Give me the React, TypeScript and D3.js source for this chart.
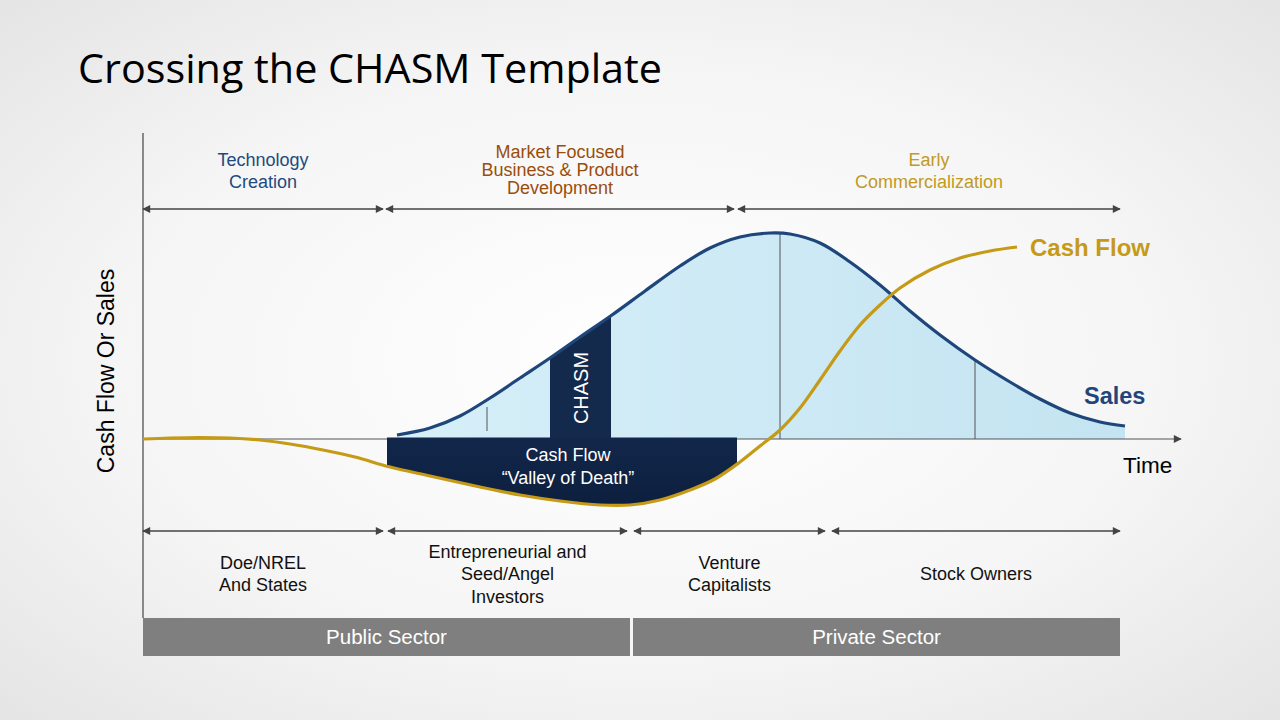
import React from "react";
import * as d3 from "d3";

// ---- Data (time units 0..100, value units: 0 = axis) ----
const salesT = [25.4, 28.7, 31.7, 34.7, 37.7, 40.7, 43.7, 46.9, 50.2, 53.7, 56.7, 59.7, 62.7, 64.7, 67.7, 70.7, 73.7, 76.7, 79.7, 83.2, 86.7, 89.7, 92.7, 95.7, 98.2];
const salesV = [2, 5.5, 11.5, 20.5, 30.5, 40.5, 51, 62, 74, 86.5, 95.5, 101, 103, 102.5, 98, 88.5, 77, 64, 52, 39.5, 28.5, 20, 13, 8.5, 6.5];

const cashT = [0, 2.7, 5.7, 8.7, 11.7, 14.7, 18, 21.2, 24.7, 28.7, 33.7, 37.7, 41.7, 45.7, 48.7, 51.7, 54.7, 57.2, 59.7, 61.7, 63.7, 65.7, 67.7, 69.7, 71.7, 73.7, 75.7, 78.7, 81.7, 84.7, 87.4];
const cashV = [0, 0.5, 0.75, 0.5, -0.5, -2.5, -5.5, -9, -14, -18.5, -24, -28, -31, -33, -33, -30.5, -25.5, -20, -11.5, -3.5, 4.5, 15.5, 29.5, 44, 57, 67, 75.5, 84.5, 90.5, 94, 96];

const chasmSpan = [40.7, 46.8];
const valleySpan = [24.4, 59.4];

const dividerT = [34.4, 63.7, 83.2];
const dividerV0 = [4, 0, 0];
const dividerV1 = [16, 102.5, 39.5];

const topPhaseStart = [0, 24.3, 59.5];
const topPhaseEnd = [24, 59.1, 97.7];
const topPhaseLabels = [["Technology", "Creation"], ["Market Focused", "Business & Product", "Development"], ["Early", "Commercialization"]];
const topPhaseColors = ["#1f4a7e", "#9a4d0b", "#c19a1f"];

const fundStart = [0, 24.5, 49.1, 68.9];
const fundEnd = [24, 48.4, 68.2, 97.7];
const fundLabels = [["Doe/NREL", "And States"], ["Entrepreneurial and", "Seed/Angel", "Investors"], ["Venture", "Capitalists"], ["Stock Owners"]];

const sectorStart = [0, 49];
const sectorEnd = [48.7, 97.7];
const sectorLabels = ["Public Sector", "Private Sector"];

const FONT = "'Liberation Sans', Arial, sans-serif";

export default function App() {
  const x = d3.scaleLinear().domain([0, 100]).range([143, 1143]);
  const y = d3.scaleLinear().domain([0, 100]).range([439, 239]);

  const sales = salesT.map((t, i) => ({ t, v: salesV[i] }));
  const cash = cashT.map((t, i) => ({ t, v: cashV[i] }));

  const curve = d3.curveCatmullRom.alpha(0.5);
  const line = d3.line<any>().x(d => x(d.t)).y(d => y(d.v)).curve(curve);
  const salesArea = d3.area<any>().x(d => x(d.t)).y0(y(0)).y1(d => y(d.v)).curve(curve);
  const valleyArea = d3.area<any>().x(d => x(d.t)).y0(y(0) - 1.5).y1(d => y(d.v)).curve(curve);

  const axisY0 = 133;
  const axisY1 = 618;
  const topArrowY = 209;
  const botArrowY = 531;
  const sectorY = 618;
  const sectorH = 38;

  return (
    <svg width={1280} height={720} style={{ position: "absolute", left: 0, top: 0 }} fontFamily={FONT}>
      <defs>
        <radialGradient id="bg" cx="50%" cy="50%" r="75%">
          <stop offset="0%" stopColor="#ffffff" />
          <stop offset="55%" stopColor="#f5f5f5" />
          <stop offset="100%" stopColor="#e2e2e2" />
        </radialGradient>
        <linearGradient id="salesFill" x1="0" y1="0" x2="1" y2="0">
          <stop offset="0%" stopColor="#d6eff9" />
          <stop offset="100%" stopColor="#c4e4f1" />
        </linearGradient>
        <linearGradient id="valleyFill" x1="0" y1="0" x2="0" y2="1">
          <stop offset="0%" stopColor="#1d3d6e" />
          <stop offset="100%" stopColor="#0d1f3e" />
        </linearGradient>
        <clipPath id="chasmClip">
          <rect x={x(chasmSpan[0])} y={0} width={x(chasmSpan[1]) - x(chasmSpan[0])} height={y(0)} />
        </clipPath>
        <clipPath id="valleyClip">
          <rect x={x(valleySpan[0])} y={y(0) - 3} width={x(valleySpan[1]) - x(valleySpan[0])} height={200} />
        </clipPath>
        <marker id="ah" viewBox="0 0 10 10" refX="9" refY="5" markerWidth="9" markerHeight="8" markerUnits="userSpaceOnUse" orient="auto-start-reverse">
          <path d="M0,0 L10,5 L0,10 Z" fill="#444" />
        </marker>
      </defs>

      <rect width={1280} height={720} fill="url(#bg)" />

      <text x={78} y={83} fontFamily="'Open Sans', 'Noto Sans', sans-serif" fontSize={40} fill="#000" textLength={584} lengthAdjust="spacingAndGlyphs">
        Crossing the CHASM Template
      </text>

      {/* Sales area and chasm */}
      <path d={salesArea(sales) || ""} fill="url(#salesFill)" />
      <path d={salesArea(sales) || ""} fill="#142a4c" clipPath="url(#chasmClip)" />
      <text transform={`translate(${(x(chasmSpan[0]) + x(chasmSpan[1])) / 2 + 7},${388}) rotate(-90)`} textAnchor="middle" fontSize={20} fill="#fff">
        CHASM
      </text>

      {/* dividers */}
      {dividerT.map((t, i) => (
        <line key={i} x1={x(t)} x2={x(t)} y1={y(dividerV0[i])} y2={y(dividerV1[i])} stroke="#555" strokeWidth={1} />
      ))}

      {/* axes */}
      <line x1={143} x2={143} y1={axisY0} y2={axisY1} stroke="#444" strokeWidth={1.2} />
      <line x1={143} x2={1181} y1={y(0)} y2={y(0)} stroke="#555" strokeWidth={1.2} markerEnd="url(#ah)" />

      {/* valley of death */}
      <path d={valleyArea(cash) || ""} fill="url(#valleyFill)" clipPath="url(#valleyClip)" />
      <text x={(x(valleySpan[0]) + x(valleySpan[1])) / 2 + 6} y={461} textAnchor="middle" fontSize={18} fill="#fff">Cash Flow</text>
      <text x={(x(valleySpan[0]) + x(valleySpan[1])) / 2 + 6} y={484} textAnchor="middle" fontSize={18} fill="#fff">“Valley of Death”</text>

      {/* curves */}
      <path d={line(sales) || ""} fill="none" stroke="#1f467b" strokeWidth={3.2} />
      <path d={line(cash) || ""} fill="none" stroke="#c59a17" strokeWidth={3.2} />

      <text x={1030} y={256} fontSize={24} fontWeight="bold" fill="#c59a17">Cash Flow</text>
      <text x={1084} y={404} fontSize={23.5} fontWeight="bold" fill="#1f467b">Sales</text>
      <text x={1123} y={473} fontSize={22.5} fill="#000">Time</text>
      <text transform="translate(114,371) rotate(-90)" textAnchor="middle" fontSize={23} fill="#000">Cash Flow Or Sales</text>

      {/* top phases */}
      {topPhaseStart.map((s, i) => {
        const cx = (x(s) + x(topPhaseEnd[i])) / 2;
        const lines = topPhaseLabels[i];
        const spacing = lines.length === 3 ? 18 : 22;
        const firstY = lines.length === 3 ? 158 : 166;
        return (
          <g key={i}>
            <line x1={x(s)} x2={x(topPhaseEnd[i])} y1={topArrowY} y2={topArrowY} stroke="#444" strokeWidth={1.3} markerStart="url(#ah)" markerEnd="url(#ah)" />
            {lines.map((l, j) => (
              <text key={j} x={cx} y={firstY + j * spacing} textAnchor="middle" fontSize={18} fill={topPhaseColors[i]}>{l}</text>
            ))}
          </g>
        );
      })}

      {/* funding phases */}
      {fundStart.map((s, i) => {
        const cx = (x(s) + x(fundEnd[i])) / 2;
        const lines = fundLabels[i];
        const spacing = 22.5;
        const firstY = 580 - ((lines.length - 1) * spacing) / 2;
        return (
          <g key={i}>
            <line x1={x(s)} x2={x(fundEnd[i])} y1={botArrowY} y2={botArrowY} stroke="#444" strokeWidth={1.3} markerStart="url(#ah)" markerEnd="url(#ah)" />
            {lines.map((l, j) => (
              <text key={j} x={cx} y={firstY + j * spacing} textAnchor="middle" fontSize={18} fill="#111">{l}</text>
            ))}
          </g>
        );
      })}

      {/* sectors */}
      {sectorStart.map((s, i) => (
        <g key={i}>
          <rect x={x(s)} y={sectorY} width={x(sectorEnd[i]) - x(s)} height={sectorH} fill="#7f7f7f" />
          <text x={(x(s) + x(sectorEnd[i])) / 2} y={sectorY + 26} textAnchor="middle" fontSize={20.5} fill="#fff">{sectorLabels[i]}</text>
        </g>
      ))}
    </svg>
  );
}
